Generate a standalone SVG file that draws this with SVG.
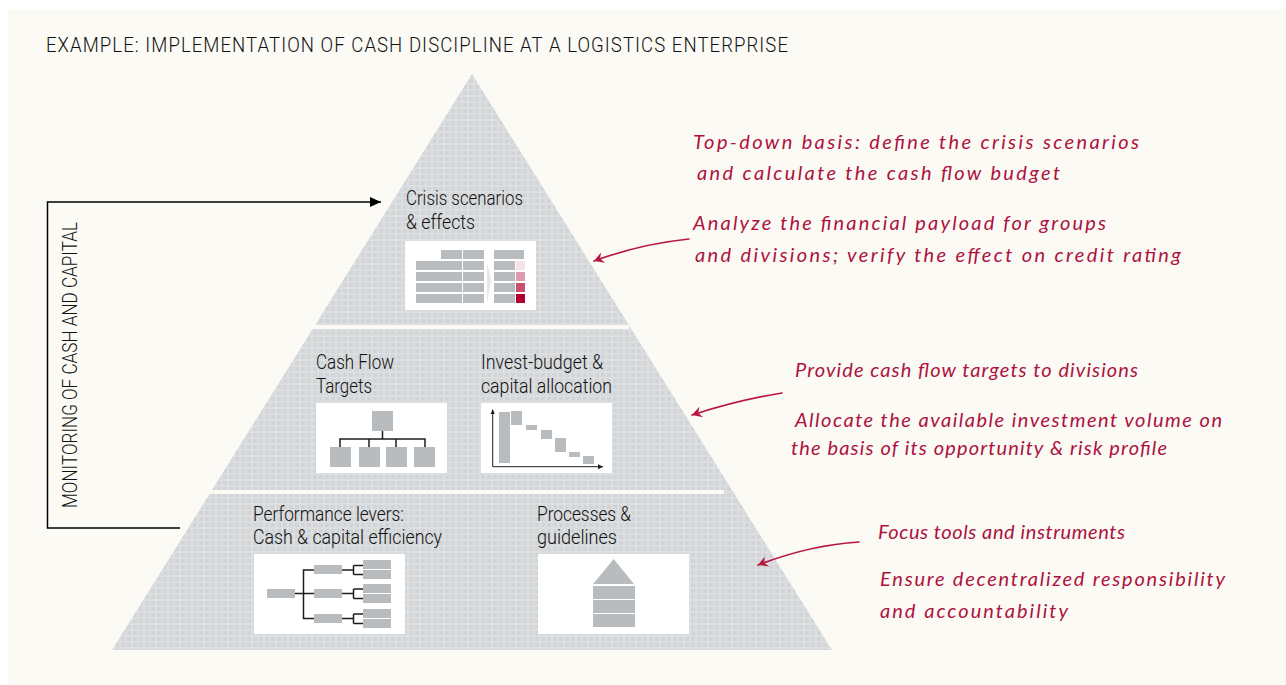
<svg xmlns="http://www.w3.org/2000/svg" width="1286" height="685" viewBox="0 0 1286 685">
<style>
.lab{font-family:"Roboto","Liberation Sans",sans-serif;font-weight:300;font-size:21px;fill:#111}
.hand{font-family:"Lato","Liberation Sans",sans-serif;font-style:italic;font-weight:400;font-size:20px;fill:#ad1240}
.g{fill:#b9bcbe}
.w{fill:#fff}
.ln{fill:none;stroke:#1d1d1b;stroke-width:1.5}
.fb{fill:none;stroke:#000;stroke-width:1.5}
.ha{fill:none;stroke:#b8183f;stroke-width:1.7;stroke-linecap:round;marker-end:url(#handHead)}
</style>
<defs>
<pattern id="dots" width="6" height="6" patternUnits="userSpaceOnUse">
<rect width="6" height="6" fill="#dcdee0"/>
<rect x="1" y="1" width="4" height="4" fill="#d2d5d8"/>
</pattern>
<marker id="fbHead" markerUnits="userSpaceOnUse" markerWidth="12" markerHeight="10" refX="11" refY="5" orient="auto"><path d="M0 0L11 5L0 10Z" fill="#000"/></marker>
<marker id="handHead" markerUnits="userSpaceOnUse" markerWidth="16" markerHeight="16" refX="13" refY="8" orient="auto"><path d="M3 2.500L13 8L3.500 13.500L6.500 8Z" fill="#b8183f"/></marker>
<marker id="axHead" markerUnits="userSpaceOnUse" markerWidth="6" markerHeight="6" refX="5" refY="3" orient="auto"><path d="M0 0.5L5 3L0 5.5Z" fill="#1d1d1b"/></marker>
</defs>
<rect x="8" y="9" width="1278" height="676" fill="#fbfaf5"/>
<text class="lab" x="46" y="51.500" textLength="743" lengthAdjust="spacingAndGlyphs" style="letter-spacing:1.2px">EXAMPLE: IMPLEMENTATION OF CASH DISCIPLINE AT A LOGISTICS ENTERPRISE</text>
<g id="pyramid">
<polygon points="472,74 832,650 112,650" fill="url(#dots)"/>
<rect x="300" y="325" width="329" height="4" fill="#fbfaf5"/>
<rect x="200" y="490" width="524" height="4" fill="#fbfaf5"/>
</g>
<g id="node-crisis">
<text class="lab" x="406" y="205" textLength="117" lengthAdjust="spacingAndGlyphs">Crisis scenarios</text>
<text class="lab" x="406" y="229" textLength="69" lengthAdjust="spacingAndGlyphs">&amp; effects</text>
<rect class="w" x="405" y="241" width="131" height="69"/>
<rect class="g" x="441" y="250" width="21" height="9"/><rect class="g" x="463" y="250" width="21" height="9"/><rect class="g" x="494" y="250" width="30" height="9"/>
<rect class="g" x="416" y="261" width="46" height="9"/><rect class="g" x="463" y="261" width="21" height="9"/><rect class="g" x="494" y="261" width="21" height="9"/><rect x="516" y="261" width="9" height="9" fill="#f6e3ea"/>
<rect class="g" x="416" y="272" width="46" height="9"/><rect class="g" x="463" y="272" width="21" height="9"/><rect class="g" x="494" y="272" width="21" height="9"/><rect x="516" y="272" width="9" height="9" fill="#e09aae"/>
<rect class="g" x="416" y="283" width="46" height="9"/><rect class="g" x="463" y="283" width="21" height="9"/><rect class="g" x="494" y="283" width="21" height="9"/><rect x="516" y="283" width="9" height="9" fill="#c9506f"/>
<rect class="g" x="416" y="294" width="46" height="9"/><rect class="g" x="463" y="294" width="21" height="9"/><rect class="g" x="494" y="294" width="21" height="9"/><rect x="516" y="294" width="9" height="9" fill="#b00032"/>
<polygon points="487,262 491,281 487,303" fill="#e4e6e7"/>
</g>
<g id="node-targets">
<text class="lab" x="316" y="369" textLength="78" lengthAdjust="spacingAndGlyphs">Cash Flow</text>
<text class="lab" x="316" y="393" textLength="56" lengthAdjust="spacingAndGlyphs">Targets</text>
<rect class="w" x="316" y="403" width="131" height="70"/>
<rect class="g" x="372" y="411" width="21" height="20"/>
<path class="ln" d="M382.500 431V439M340 447V439H425V447M369 439V447M396 439V447"/>
<rect class="g" x="330" y="447" width="21" height="20"/><rect class="g" x="359" y="447" width="21" height="20"/><rect class="g" x="386" y="447" width="21" height="20"/><rect class="g" x="414" y="447" width="21" height="20"/>
</g>
<g id="node-invest">
<text class="lab" x="481" y="369" textLength="122" lengthAdjust="spacingAndGlyphs">Invest-budget &amp;</text>
<text class="lab" x="481" y="393" textLength="131" lengthAdjust="spacingAndGlyphs">capital allocation</text>
<rect class="w" x="481" y="403" width="131" height="70"/>
<path d="M492.700 410V466.700H603" fill="none" stroke="#1d1d1b" stroke-width="1" marker-end="url(#axHead)"/>
<path d="M490.700 414L492.700 409L494.700 414Z" fill="#1d1d1b"/>
<rect class="g" x="499" y="412" width="11" height="51"/><rect class="g" x="511" y="411" width="11" height="14"/><rect class="g" x="526" y="425" width="11" height="5"/><rect class="g" x="541" y="430" width="11" height="9"/><rect class="g" x="555" y="438" width="11" height="14"/><rect class="g" x="569" y="452" width="11" height="5"/><rect class="g" x="583" y="456" width="11" height="8"/>
</g>
<g id="node-levers">
<text class="lab" x="253" y="521" textLength="151" lengthAdjust="spacingAndGlyphs">Performance levers:</text>
<text class="lab" x="253" y="544" textLength="189" lengthAdjust="spacingAndGlyphs">Cash &amp; capital efficiency</text>
<rect class="w" x="254" y="554" width="151" height="80"/>
<path class="ln" d="M295 593.500H314M303.500 593.500V570H314M303.500 593.500V618.500H314M342 570H353.500M353.500 565.500V574.500M353.500 565.500H363M353.500 574.500H363M342 593.500H353.500M353.500 589V598.500M353.500 589H363M353.500 598.500H363M342 618.500H353.500M353.500 614V623.500M353.500 614H363M353.500 623.500H363"/>
<rect class="g" x="267" y="589" width="28" height="9"/>
<rect class="g" x="314" y="565" width="28" height="9"/><rect class="g" x="314" y="589" width="28" height="9"/><rect class="g" x="314" y="614" width="28" height="9"/>
<rect class="g" x="363" y="560" width="28" height="9"/><rect class="g" x="363" y="570" width="28" height="9"/><rect class="g" x="363" y="584" width="28" height="9"/><rect class="g" x="363" y="594" width="28" height="9"/><rect class="g" x="363" y="609" width="28" height="9"/><rect class="g" x="363" y="619" width="28" height="9"/>
</g>
<g id="node-processes">
<text class="lab" x="537" y="521" textLength="94" lengthAdjust="spacingAndGlyphs">Processes &amp;</text>
<text class="lab" x="537" y="544" textLength="80" lengthAdjust="spacingAndGlyphs">guidelines</text>
<rect class="w" x="538" y="554" width="151" height="80"/>
<polygon class="g" points="613.700,559 634,584 593,584"/>
<rect class="g" x="593" y="586" width="42" height="13"/><rect class="g" x="593" y="600" width="42" height="13"/><rect class="g" x="593" y="614" width="42" height="13"/>
</g>
<g id="connectors">
<path class="fb" d="M180 528H47.500V202H381" marker-end="url(#fbHead)"/>
<path class="ha" d="M689 239Q640 244 594 261"/>
<path class="ha" d="M782 393Q738 400 692 415"/>
<path class="ha" d="M859 542Q810 545 758 565"/>
</g>
<text class="lab" transform="translate(77 508) rotate(-90)" x="0" y="0" textLength="286" lengthAdjust="spacingAndGlyphs">MONITORING OF CASH AND CAPITAL</text>
<g id="notes">
<text class="hand" x="693" y="149" textLength="446" lengthAdjust="spacing">Top-down basis: define the crisis scenarios</text>
<text class="hand" x="697" y="180" textLength="363" lengthAdjust="spacing">and calculate the cash flow budget</text>
<text class="hand" x="693" y="230" textLength="413" lengthAdjust="spacing">Analyze the financial payload for groups</text>
<text class="hand" x="695" y="262" textLength="486" lengthAdjust="spacing">and divisions; verify the effect on credit rating</text>
<text class="hand" x="795" y="377" textLength="343" lengthAdjust="spacing">Provide cash flow targets to divisions</text>
<text class="hand" x="795" y="427" textLength="427" lengthAdjust="spacing">Allocate the available investment volume on</text>
<text class="hand" x="791" y="455" textLength="376" lengthAdjust="spacing">the basis of its opportunity &amp; risk profile</text>
<text class="hand" x="878" y="539" textLength="247" lengthAdjust="spacing">Focus tools and instruments</text>
<text class="hand" x="880" y="586" textLength="345" lengthAdjust="spacing">Ensure decentralized responsibility</text>
<text class="hand" x="880" y="618" textLength="188" lengthAdjust="spacing">and accountability</text>
</g>
</svg>
